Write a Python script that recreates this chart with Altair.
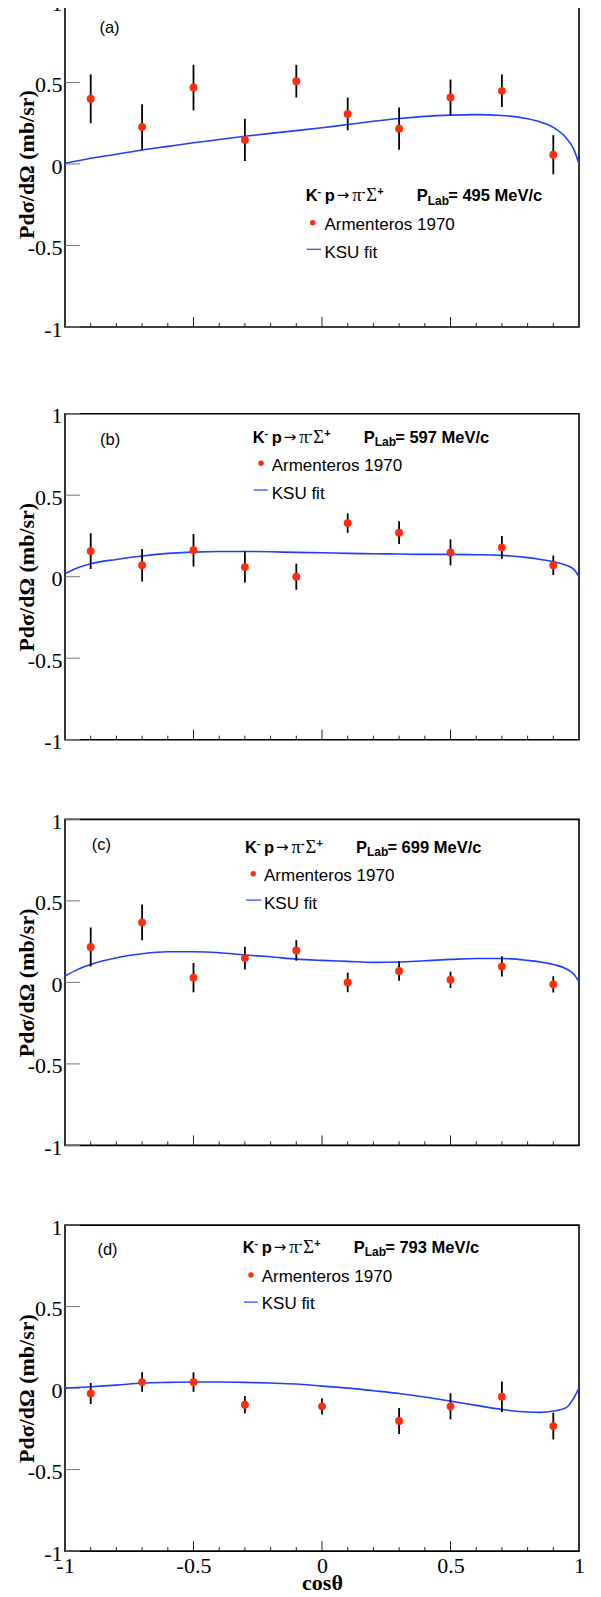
import altair as alt
import pandas as pd

# ---------------- data ----------------
COS10 = [-0.9, -0.7, -0.5, -0.3, -0.1, 0.1, 0.3, 0.5, 0.7, 0.9]
COS9 = [-0.9, -0.7, -0.5, -0.3, 0.0, 0.3, 0.5, 0.7, 0.9]

A_Y = [0.400, 0.227, 0.469, 0.148, 0.508, 0.307, 0.217, 0.408, 0.449, 0.057]
A_ERR = [0.150, 0.140, 0.140, 0.130, 0.100, 0.100, 0.130, 0.110, 0.100, 0.120]
B_Y = [0.157, 0.070, 0.162, 0.059, 0.000, 0.329, 0.270, 0.149, 0.180, 0.070]
B_ERR = [0.110, 0.100, 0.100, 0.095, 0.080, 0.060, 0.070, 0.080, 0.070, 0.060]
C_Y = [0.217, 0.368, 0.029, 0.149, 0.196, 0.000, 0.070, 0.016, 0.098, -0.012]
C_ERR = [0.120, 0.110, 0.090, 0.070, 0.063, 0.060, 0.060, 0.050, 0.062, 0.050]
D_Y = [-0.033, 0.037, 0.037, -0.102, -0.112, -0.202, -0.112, -0.053, -0.233]
D_ERR = [0.065, 0.060, 0.060, 0.053, 0.050, 0.080, 0.080, 0.093, 0.082]

FIT_X = [-1.0, -0.95, -0.9, -0.8, -0.7, -0.6, -0.5, -0.4, -0.3, -0.2, -0.1, 0.0,
         0.1, 0.2, 0.3, 0.4, 0.5, 0.6, 0.7, 0.8, 0.85, 0.9, 0.95, 0.98, 1.0]
FIT_A = [0.005, 0.020, 0.035, 0.060, 0.086, 0.108, 0.130, 0.150, 0.170, 0.188, 0.205, 0.222,
         0.242, 0.262, 0.279, 0.292, 0.300, 0.303, 0.298, 0.278, 0.258, 0.225, 0.160, 0.090, 0.000]
FIT_B = [0.018, 0.055, 0.080, 0.106, 0.127, 0.143, 0.151, 0.155, 0.155, 0.153, 0.149, 0.147,
         0.143, 0.141, 0.139, 0.137, 0.137, 0.135, 0.131, 0.117, 0.106, 0.092, 0.070, 0.045, 0.000]
FIT_C = [0.039, 0.080, 0.110, 0.151, 0.176, 0.188, 0.188, 0.182, 0.168, 0.157, 0.143, 0.135,
         0.129, 0.123, 0.125, 0.133, 0.141, 0.147, 0.147, 0.135, 0.125, 0.110, 0.084, 0.050, 0.004]
FIT_D = [0.000, 0.004, 0.008, 0.018, 0.031, 0.035, 0.037, 0.037, 0.035, 0.031, 0.025, 0.012,
         0.000, -0.016, -0.033, -0.055, -0.080, -0.106, -0.131, -0.147, -0.149, -0.141, -0.120, -0.060, 0.000]

PANEL_LABELS = ["(a)", "(b)", "(c)", "(d)"]
PLAB = ["495", "597", "699", "793"]

X_MAJOR = [-0.5, 0.0, 0.5]
X_MINOR = [-0.9, -0.8, -0.7, -0.6, -0.4, -0.3, -0.2, -0.1, 0.1, 0.2, 0.3, 0.4, 0.6, 0.7, 0.8, 0.9]
Y_TICKS = [-1.0, -0.5, 0.0, 0.5, 1.0]

# ---------------- styling ----------------
W, H = 514, 326
RED = "#ff2d0f"
BLUE = "#1d3fff"
SANS = "Liberation Sans"
SERIF = "Liberation Serif"
ONE = pd.DataFrame({"k": [0]})

# annotation positions per panel (pixels relative to plot area)
ANN = [
    dict(lab=(34.4, 32), x0=240.7, b0=200.0, mk=(247.7, 221.7), tx=259.4, tb=229.3, ln=(241.7, 256.0, 248.3), kb=257.3),
    dict(lab=(35.0, 31), x0=187.7, b0=29.0, mk=(196.0, 49.6), tx=206.7, tb=57.3, ln=(188.7, 202.7, 76.3), kb=85.6),
    dict(lab=(26.7, 31), x0=179.9, b0=33.4, mk=(188.3, 54.4), tx=199.0, tb=61.7, ln=(181.0, 196.4, 80.7), kb=90.0),
    dict(lab=(32.4, 30), x0=177.7, b0=27.7, mk=(186.0, 50.0), tx=196.7, tb=56.7, ln=(179.0, 192.7, 77.0), kb=84.3),
]

STYLES = {
    "bold": dict(font=SANS, fontSize=16.5, fontWeight="bold"),
    "sup": dict(font=SANS, fontSize=11, fontWeight="bold"),
    "sub": dict(font=SANS, fontSize=12, fontWeight="bold"),
    "serif": dict(font=SERIF, fontSize=18.5, fontWeight="normal"),
    "arrow": dict(font="DejaVu Sans", fontSize=15, fontWeight="normal"),
}

LABEL_STYLE = dict(labelFont=SERIF, labelFontSize=22, labelColor="black", labelFontWeight="normal",
                   titleFont=SERIF, titleFontSize=22, titleFontWeight="bold", titleColor="black")


def txt(x, y, s, **style):
    return alt.Chart(ONE).mark_text(text=s, align="left", baseline="alphabetic",
                                    color="black", **style).encode(
        x=alt.value(x), y=alt.value(y))


def panel(i, xs, ys, errs, fit_y, show_x):
    sx = alt.Scale(domain=[-1, 1], nice=False, zero=False)
    sy = alt.Scale(domain=[-1, 1], nice=False, zero=False)
    if show_x:
        xaxis = alt.Axis(values=[-1, -0.5, 0, 0.5, 1], ticks=False, tickSize=0, domain=False,
                         grid=False, labelExpr="'' + datum.value", labelPadding=4,
                         labelFlush=False, labelOverlap=False, title="cosθ", titleX=W / 2, titleY=38,
                         titleAlign="center", titleBaseline="alphabetic", **LABEL_STYLE)
    else:
        xaxis = None
    yaxis = alt.Axis(values=Y_TICKS, ticks=False, tickSize=0, domain=False, grid=False,
                     labelExpr="'' + datum.value", labelPadding=3, labelOffset=2,
                     labelFlush=False, labelOverlap=False, title="Pdσ/dΩ (mb/sr)", titleX=-38.3,
                     titleY=H / 2, titleAngle=270, titleAlign="center", titleBaseline="middle",
                     **LABEL_STYLE)

    df = pd.DataFrame({"x": xs, "y": ys,
                       "lo": [y - e for y, e in zip(ys, errs)],
                       "hi": [y + e for y, e in zip(ys, errs)]})
    fit = pd.DataFrame({"x": FIT_X, "y": fit_y})

    X = alt.X("x:Q", scale=sx, axis=xaxis)
    layers = []
    layers.append(alt.Chart(pd.DataFrame({"t": X_MINOR})).mark_rule(color="#222", strokeWidth=1).encode(
        x=alt.X("t:Q", scale=sx, axis=xaxis), y=alt.value(H), y2=alt.value(H - 4)))
    layers.append(alt.Chart(pd.DataFrame({"t": X_MAJOR})).mark_rule(color="#222", strokeWidth=1).encode(
        x=alt.X("t:Q", scale=sx, axis=xaxis), y=alt.value(H), y2=alt.value(H - 10)))
    layers.append(alt.Chart(pd.DataFrame({"t": Y_TICKS})).mark_rule(color="#777", strokeWidth=1).encode(
        y=alt.Y("t:Q", scale=sy, axis=yaxis), x=alt.value(0), x2=alt.value(15)))
    layers.append(alt.Chart(fit).mark_line(color=BLUE, strokeWidth=1.6, interpolate="monotone").encode(
        x=X, y=alt.Y("y:Q", scale=sy, axis=yaxis)))
    layers.append(alt.Chart(df).mark_rule(color="black", strokeWidth=1.8).encode(
        x=X, y=alt.Y("lo:Q", scale=sy, axis=yaxis), y2="hi:Q"))
    layers.append(alt.Chart(df).mark_circle(color=RED, size=62, opacity=1).encode(
        x=X, y=alt.Y("y:Q", scale=sy, axis=yaxis)))

    a = ANN[i]
    # panel label
    layers.append(txt(a["lab"][0], a["lab"][1], PANEL_LABELS[i], font=SANS, fontSize=16.5))
    # header line: K- p -> pi- Sigma+   P_Lab= ... MeV/c
    x0, b0 = a["x0"], a["b0"]
    segs = [("K", 0, 0, "bold"), ("-", 11.8, -6, "sup"), ("p", 19.0, 0, "bold"),
            ("→", 31, -1, "arrow"), ("π", 46.5, 0, "serif"), ("-", 56, -6, "sup"),
            ("Σ", 60.5, 0, "serif"), ("+", 71.5, -6, "sup"), ("P", 111.0, 0, "bold"),
            ("Lab", 122.0, 3.5, "sub"), ("= " + PLAB[i] + " MeV/c", 142.5, 0, "bold")]
    for s, dx, dy, st in segs:
        layers.append(txt(x0 + dx, b0 + dy, s, **STYLES[st]))
    # legend entries
    layers.append(alt.Chart(ONE).mark_circle(color=RED, size=30, opacity=1).encode(
        x=alt.value(a["mk"][0]), y=alt.value(a["mk"][1])))
    layers.append(txt(a["tx"], a["tb"], "Armenteros 1970", font=SANS, fontSize=17))
    layers.append(alt.Chart(ONE).mark_rule(color=BLUE, strokeWidth=1.2).encode(
        x=alt.value(a["ln"][0]), x2=alt.value(a["ln"][1]), y=alt.value(a["ln"][2])))
    layers.append(txt(a["tx"], a["kb"], "KSU fit", font=SANS, fontSize=17))

    return alt.layer(*layers).properties(width=W, height=H)


pa = panel(0, COS10, A_Y, A_ERR, FIT_A, False)
pb = panel(1, COS10, B_Y, B_ERR, FIT_B, False)
pc = panel(2, COS10, C_Y, C_ERR, FIT_C, False)
pd_ = panel(3, COS9, D_Y, D_ERR, FIT_D, True)

inner = alt.vconcat(pb, pc, pd_, spacing=79.7, bounds="flush")
chart = alt.vconcat(pa, inner, spacing=86.7, bounds="flush").properties(
    padding={"left": 6, "top": -17, "right": 0, "bottom": 0},
    background="white",
).configure_view(
    stroke="black", strokeWidth=1.6
).configure_axis(
    grid=False, labelFont=SERIF, labelFontSize=22, labelColor="black",
    titleFont=SERIF, titleFontSize=22, titleFontWeight="bold", titleColor="black"
)

chart.save("out.html", embed_options={"renderer": "svg", "actions": False})
